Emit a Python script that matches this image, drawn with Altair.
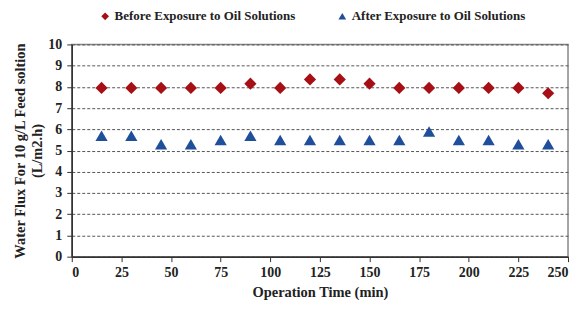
import altair as alt
import pandas as pd

times = [15, 30, 45, 60, 75, 90, 105, 120, 135, 150, 165, 180, 195, 210, 225, 240]
before = [7.95, 7.95, 7.95, 7.95, 7.95, 8.15, 7.95, 8.35, 8.35, 8.15, 7.95, 7.95, 7.95, 7.95, 7.95, 7.7]
after = [5.7, 5.7, 5.3, 5.3, 5.5, 5.7, 5.5, 5.5, 5.5, 5.5, 5.5, 5.9, 5.5, 5.5, 5.3, 5.3]
series = ["Before Exposure to Oil Solutions", "After Exposure to Oil Solutions"]

rows = []
for t, b in zip(times, before):
    rows.append({"t": t, "v": b, "s": series[0]})
for t, a in zip(times, after):
    rows.append({"t": t, "v": a, "s": series[1]})
df = pd.DataFrame(rows)

font = "Liberation Serif"

chart = alt.Chart(df).mark_point(filled=True, opacity=1, size=150).encode(
    x=alt.X("t:Q", scale=alt.Scale(domain=[0, 250], nice=False),
            axis=alt.Axis(values=list(range(0, 251, 25)), title="Operation  Time (min)",
                          grid=False, tickSize=5, labelPadding=4, titlePadding=6,
                          titleFontSize=14.5)),
    y=alt.Y("v:Q", scale=alt.Scale(domain=[0, 10], nice=False),
            axis=alt.Axis(values=list(range(0, 11)), title=["Water Flux For 10 g/L Feed soltion", "(L/m2.h)"],
                          grid=True, gridDash=[3, 2], gridColor="#555555", gridWidth=1,
                          tickSize=5, labelPadding=5, titlePadding=3,
                          titleFontSize=14.5, titleLineHeight=17)),
    color=alt.Color("s:N", scale=alt.Scale(domain=series, range=["#A50F15", "#1F4E9A"]),
                    legend=alt.Legend(title=None, orient="none", legendX=27, legendY=-35,
                                      direction="horizontal", columnPadding=40, symbolSize=60,
                                      labelFont=font, labelFontWeight="bold", labelFontSize=13,
                                      labelColor="#222222", labelLimit=0, labelOffset=3)),
    shape=alt.Shape("s:N", scale=alt.Scale(domain=series, range=["diamond", "triangle-up"]),
                    legend=None),
).properties(
    width=498, height=213,
    autosize=alt.AutoSizeParams(type="none"),
    padding={"left": 64, "top": 36, "right": 3, "bottom": 60},
).configure_view(
    stroke="#888888", strokeWidth=1.5
).configure_axis(
    labelFont=font, labelFontWeight="bold", labelFontSize=14, labelColor="#222222",
    titleFont=font, titleFontWeight="bold", titleColor="#222222",
    domainColor="#333333", tickColor="#333333", domainWidth=1.5
)

chart.save("out.html", embed_options={"renderer": "svg", "actions": False})
